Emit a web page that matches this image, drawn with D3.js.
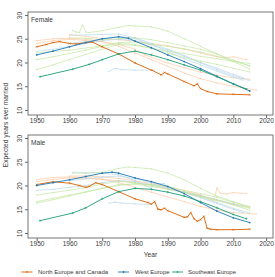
<!DOCTYPE html>
<html><head><meta charset="utf-8">
<script src="https://cdn.jsdelivr.net/npm/d3@7"></script>
<style>body{margin:0;background:#fff}svg{display:block;font-family:"Liberation Sans",Arial,sans-serif}</style>
</head><body><svg id="c" width="275" height="277"></svg>
<script>
// ---------- data ----------
const xTicks = [1950,1960,1970,1980,1990,2000,2010,2020];
const yTicks = [10,15,20,25,30];
const panels = ["Female","Male"];
const groups = ["North Europe and Canada","West Europe","Southeast Europe"];

// Female – group averages
const femNEC_years = [1950,1953,1955,1957,1960,1962,1965,1967,1970,1975,1980,1985,1988,1989,1990,1995,1998,1999,2000,2002,2005,2010,2015];
const femNEC = [23.3,23.8,24.2,24.4,24.0,23.9,24.2,24.3,23.3,21.8,19.9,18.4,17.4,17.9,17.6,16.0,15.1,15.5,14.5,13.9,13.4,13.3,13.2];
const femWE_years = [1950,1955,1960,1965,1970,1975,1978,1980,1985,1990,1995,2000,2005,2010,2015];
const femWE = [21.6,22.4,23.3,24.2,25.0,25.4,25.1,24.5,23.1,21.6,20.2,18.7,17.1,15.5,14.0];
const femSE_years = [1951,1961,1966,1970,1975,1980,1985,1990,1995,2000,2005,2010,2014];
const femSE = [17.0,18.6,19.6,20.6,21.8,22.4,21.6,20.6,19.5,18.4,17.0,15.5,14.4];

// Female – individual countries (light)
const fO1_years = [1950,1955,1960,1965,1970,1975,1980,1985,1990,1995,2000,2005,2010,2017];
const fO1 = [24.6,25.0,25.1,24.9,24.4,23.4,22.0,20.6,19.2,17.8,16.6,15.7,15.0,14.2];
const fO2_years = [1950,1955,1960,1965,1970,1975,1980,1983,1990,1995,2000,2005,2010,2015];
const fO2 = [24.0,24.6,24.9,24.6,24.4,23.8,22.8,21.6,19.9,18.9,18.0,17.3,16.8,16.5];
const fO3_years = [1960,1965,1970,1975,1980,1985,1990,1995,2000,2005,2008,2010,2014];
const fO3 = [25.8,25.5,25.0,24.8,24.5,24.0,23.5,22.8,22.0,21.2,21.0,21.2,20.6];
const fB1_years = [1960,1965,1970,1975,1980,1985,1990,1995,2000,2005,2010,2013];
const fB1 = [25.8,25.8,25.9,26.0,25.2,24.0,22.8,21.5,20.0,18.8,17.5,16.8];
const fB2_years = [1972,1974,1976,1980,1986];
const fB2 = [18.1,18.8,18.5,18.4,18.4];
const fB3_years = [1950,1955,1960,1965,1970,1975,1980,1985,1990,1995,2000,2005,2010,2015];
const fB3 = [22.3,22.8,23.4,24.0,24.6,24.9,24.6,23.7,22.6,21.3,19.9,18.5,17.2,16.2];
const fB4_years = [1960,1970,1975,1980,1985,1990,1995,2000,2005,2010,2013];
const fB4 = [24.0,24.8,25.5,25.0,23.8,22.3,20.8,19.5,18.2,16.9,16.3];
const fG1_years = [1961,1962,1963,1964,1965,1966,1970,1975,1978,1980,1985,1990,1995,2000,2005,2010,2015];
const fG1 = [26.7,26.4,26.3,27.9,26.4,26.3,26.7,27.4,27.8,27.7,27.5,26.6,25.0,23.4,21.8,20.2,18.6];
const fG2_years = [1950,1955,1960,1965,1970,1975,1980,1985,1990,1995,2000,2005,2010,2015];
const fG2 = [18.5,19.5,20.6,21.7,22.8,23.8,23.6,23.0,22.4,21.9,21.3,20.8,20.2,19.8];
const fG3_years = [1950,1955,1960,1965,1970,1975,1980,1985,1990,1995,2000,2005,2010,2015];
const fG3 = [20.6,21.2,21.9,22.6,23.4,24.0,23.8,23.0,22.0,21.0,20.3,19.6,18.8,18.0];
const fG4_years = [1950,1960,1970,1975,1980,1985,1990,1995,2000,2005,2010,2015];
const fG4 = [22.0,22.6,23.5,24.2,24.3,23.8,23.4,22.9,22.2,21.3,20.3,19.3];
const fG5_years = [1960,1965,1970,1975,1980,1985,1990,1995,2000,2005,2010,2015];
const fG5 = [25.2,25.1,24.8,25.0,25.2,24.8,24.2,23.5,22.8,21.8,20.5,19.3];

// Male – group averages
const malNEC_years = [1950,1955,1960,1963,1965,1966,1968,1970,1975,1980,1984,1985,1986,1987,1988,1989,1990,1995,1996,1997,1998,1999,2000,2001,2002,2003,2005,2010,2015];
const malNEC = [20.2,20.8,20.5,20.0,19.6,19.8,20.6,20.2,18.7,17.2,16.4,16.1,16.6,15.0,14.9,15.2,14.7,13.3,13.4,14.3,13.0,12.5,12.8,13.5,11.0,10.8,10.7,10.7,10.8];
const malWE_years = [1950,1955,1960,1965,1970,1973,1975,1980,1985,1990,1995,2000,2005,2010,2015];
const malWE = [20.0,20.6,21.2,21.9,22.6,22.8,22.6,21.6,20.8,19.8,18.3,16.4,14.6,13.2,12.2];
const malSE_years = [1951,1961,1965,1970,1975,1980,1985,1990,1995,2000,2005,2010,2014];
const malSE = [12.6,14.2,15.3,17.2,18.7,19.4,19.2,18.6,17.8,16.6,15.3,13.9,13.0];

// Male – individual countries (light)
const mO1_years = [1960,1965,1970,1975,1980,1985,1990,1995,2000,2004,2005,2006,2008,2010,2014];
const mO1 = [22.0,22.0,21.8,21.5,21.0,20.4,19.7,18.9,18.0,16.8,19.5,18.4,18.2,18.5,18.3];
const mO2_years = [1950,1955,1960,1965,1970,1975,1980,1985,1990,1995,2000,2005,2010,2017];
const mO2 = [21.2,21.7,21.8,21.6,21.3,20.6,19.6,18.6,17.6,16.6,15.6,14.8,14.3,14.0];
const mO3_years = [1950,1955,1960,1965,1970,1975,1980,1985,1990,1995,2000,2005,2010,2015];
const mO3 = [20.8,21.3,21.6,21.5,21.3,21.0,20.6,20.1,19.4,18.6,17.8,16.9,16.1,15.4];
const mB1_years = [1961,1965,1970,1975,1980,1985,1986,1989,1990,1995,2000,2005,2010,2013];
const mB1 = [22.8,22.7,22.6,22.3,21.0,19.4,20.4,20.4,19.2,18.6,17.9,17.0,16.2,15.6];
const mB2_years = [1972,1974,1976,1980,1985];
const mB2 = [16.3,16.5,16.3,16.1,16.0];
const mB3_years = [1950,1955,1960,1965,1970,1975,1980,1985,1990,1995,2000,2005,2010,2015];
const mB3 = [19.0,19.2,19.6,20.0,20.6,21.0,20.8,20.2,19.4,18.6,17.6,16.4,15.2,14.2];
const mB4_years = [1960,1965,1970,1975,1980,1985,1990,1995,2000,2005,2010,2013];
const mB4 = [21.0,21.4,21.8,22.0,21.4,20.6,19.6,18.6,17.4,16.2,15.0,14.3];
const mG1_years = [1961,1965,1970,1975,1978,1980,1985,1990,1995,2000,2005,2010,2015];
const mG1 = [22.6,22.6,22.8,23.6,23.9,23.8,23.5,22.6,21.2,19.4,17.8,16.6,15.4];
const mG2_years = [1950,1955,1960,1965,1970,1975,1980,1985,1990,1995,2000,2005,2010,2015];
const mG2 = [16.3,17.0,17.8,18.6,19.4,20.2,20.3,19.8,19.2,18.6,17.8,17.0,16.0,15.2];
const mG3_years = [1950,1955,1960,1965,1970,1975,1980,1985,1990,1995,2000,2005,2010,2015];
const mG3 = [18.0,18.5,19.0,19.6,20.3,20.9,20.6,20.0,19.3,18.5,17.6,16.8,15.9,14.8];
const mG4_years = [1950,1960,1970,1975,1980,1985,1990,1995,2000,2005,2010,2015];
const mG4 = [16.6,18.0,19.4,20.0,20.4,20.2,19.8,19.0,18.3,17.5,16.5,15.6];

// ---------- build ----------
const lightCol = {O:"#fdc59a", B:"#b3d6e9", G:"#bfe49c"};
const darkCol = ["#d95f02","#1f78b4","#1b9e77"];
const zip = (ys, vs) => ys.map((y,i)=>({x:y, v:vs[i]}));

const panelData = [
  { light: [["O",fO1_years,fO1],["O",fO2_years,fO2],["O",fO3_years,fO3],
            ["B",fB1_years,fB1],["B",fB2_years,fB2],["B",fB3_years,fB3],["B",fB4_years,fB4],
            ["G",fG1_years,fG1],["G",fG2_years,fG2],["G",fG3_years,fG3],["G",fG4_years,fG4],["G",fG5_years,fG5]],
    dark: [[femNEC_years,femNEC],[femWE_years,femWE],[femSE_years,femSE]] },
  { light: [["O",mO1_years,mO1],["O",mO2_years,mO2],["O",mO3_years,mO3],
            ["B",mB1_years,mB1],["B",mB2_years,mB2],["B",mB3_years,mB3],["B",mB4_years,mB4],
            ["G",mG1_years,mG1],["G",mG2_years,mG2],["G",mG3_years,mG3],["G",mG4_years,mG4]],
    dark: [[malNEC_years,malNEC],[malWE_years,malWE],[malSE_years,malSE]] }
];

const svg = d3.select("#c");
const L = 28, R = 273;
const frames = [[12,115],[135,238]];
const x = d3.scaleLinear().domain([1947.35, 2022.1]).range([L, R]);
const txtCol = "#3a3a3a", fs = 6.6;

function marker(g, type, cx, cy, col) {
  if (type === 0) {
    g.append("path").attr("d",`M${cx-0.9},${cy-0.9}L${cx+0.9},${cy+0.9}M${cx-0.9},${cy+0.9}L${cx+0.9},${cy-0.9}`)
     .attr("stroke",col).attr("stroke-width",0.6);
  } else if (type === 1) {
    g.append("circle").attr("cx",cx).attr("cy",cy).attr("r",0.9).attr("fill",col);
  } else {
    g.append("path").attr("d",`M${cx-1.1},${cy}L${cx+1.1},${cy}M${cx},${cy-1.1}L${cx},${cy+1.1}`)
     .attr("stroke",col).attr("stroke-width",0.6);
  }
}

panelData.forEach((pd, pi) => {
  const [top, bot] = frames[pi];
  const y = d3.scaleLinear().domain([8.95, 30.63]).range([bot, top]);
  const g = svg.append("g");
  const line = d3.line().x(d=>x(d.x)).y(d=>y(d.v));

  // light country lines
  pd.light.forEach(([c, ys, vs]) => {
    const data = zip(ys, vs);
    g.append("path").datum(data).attr("d", line).attr("fill","none")
      .attr("stroke", lightCol[c]).attr("stroke-width", 0.65);
    g.selectAll(null).data(data).enter().append("circle")
      .attr("cx", d=>x(d.x)).attr("cy", d=>y(d.v)).attr("r", 0.55).attr("fill", lightCol[c]);
  });
  // dark group lines
  pd.dark.forEach(([ys, vs], k) => {
    const data = zip(ys, vs);
    g.append("path").datum(data).attr("d", line).attr("fill","none")
      .attr("stroke", darkCol[k]).attr("stroke-width", 0.9);
    data.forEach(d => marker(g, k, x(d.x), y(d.v), darkCol[k]));
  });

  // frame
  g.append("rect").attr("x",L).attr("y",top).attr("width",R-L).attr("height",bot-top)
    .attr("fill","none").attr("stroke","#666").attr("stroke-width",0.9);

  // x axis
  const xa = g.append("g").attr("transform",`translate(0,${bot})`)
    .call(d3.axisBottom(x).tickValues(xTicks).tickSize(3).tickFormat(d3.format("d")));
  xa.select(".domain").remove();
  xa.selectAll("line").attr("stroke","#666");
  xa.selectAll("text").attr("fill",txtCol).attr("font-size",fs).attr("dy","0.55em").attr("y",4);

  // y axis
  const ya = g.append("g").attr("transform",`translate(${L},0)`)
    .call(d3.axisLeft(y).tickValues(yTicks).tickSize(3));
  ya.select(".domain").remove();
  ya.selectAll("line").attr("stroke","#666");
  ya.selectAll("text").attr("fill",txtCol).attr("font-size",fs)
    .attr("x",0).attr("dy",0).attr("text-anchor","middle")
    .attr("transform","translate(-6,0) rotate(-90)");

  g.append("text").attr("x",L+3).attr("y",top+10).attr("font-size",fs).attr("fill",txtCol).text(panels[pi]);
});

svg.append("text").attr("x",(L+R)/2).attr("y",257).attr("text-anchor","middle")
  .attr("font-size",fs).attr("fill",txtCol).text("Year");
svg.append("text").attr("transform","translate(8,125) rotate(-90)").attr("text-anchor","middle")
  .attr("font-size",fs).attr("fill",txtCol).text("Expected years ever married");

// legend
const legX = [[21.5,38],[118,135],[172,188]];
const ly = 272;
groups.forEach((name, k) => {
  const [sx, tx] = legX[k];
  svg.append("line").attr("x1",sx).attr("x2",sx+11).attr("y1",ly).attr("y2",ly)
    .attr("stroke",darkCol[k]).attr("stroke-width",0.9);
  marker(svg, k, sx+5.5, ly, darkCol[k]);
  svg.append("text").attr("x",tx).attr("y",ly+2.2).attr("font-size",6).attr("fill",txtCol).text(name);
});
</script></body></html>
